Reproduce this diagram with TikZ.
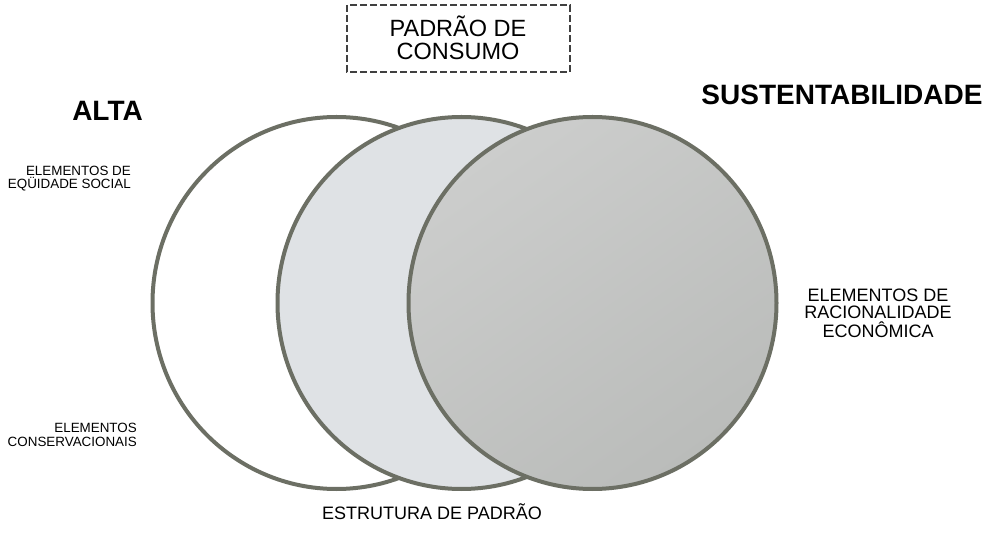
\documentclass[tikz,border=0pt]{standalone}
\usepackage{fontspec}
\setmainfont{Liberation Sans}
\usetikzlibrary{shapes.geometric}
\definecolor{rim}{RGB}{108,111,100}
\definecolor{midfill}{RGB}{223,226,229}
\definecolor{rightfill}{RGB}{186,188,186}
\definecolor{rightlight}{RGB}{204,205,204}
\tikzset{
  setring/.style={ellipse, draw=rim, line width=4pt, minimum width=368pt, minimum height=372pt, inner sep=0pt},
  bigtitle/.style={font=\fontsize{28}{30}\selectfont\bfseries, inner sep=0pt},
  smalllab/.style={font=\fontsize{13.4}{14}\selectfont, inner sep=0pt},
  midlab/.style={font=\fontsize{18}{20}\selectfont, inner sep=0pt},
  toplab/.style={font=\fontsize{23.5}{25}\selectfont, inner sep=0pt},
  framebox/.style={draw=black!75, line width=1.2pt, dash pattern=on 7pt off 3pt}
}
\begin{document}
\begin{tikzpicture}[x=1pt,y=-1pt]
\useasboundingbox (0,0) rectangle (989,537);
\fill[white] (0,0) rectangle (989,537);
% circles
\node[setring, fill=white] (c1) at (336.5,303) {};
\node[setring, fill=midfill] (c2) at (461.5,303) {};
\node[setring, shading=axis, top color=rightlight, bottom color=rightfill, shading angle=35] (c3) at (592.5,303) {};
% top framed label
\draw[framebox] (347,5) rectangle (570,72);
\node[toplab, anchor=base] (pc1) at (458,37) {PADRÃO DE};
\node[toplab, anchor=base] (pc2) at (458,60) {CONSUMO};
% titles
\node[bigtitle, anchor=base] (alta) at (107.5,121) {ALTA};
\node[bigtitle, anchor=base] (sust) at (842,105) {SUSTENTABILIDADE};
% left labels
\node[smalllab, anchor=base east] (eq1) at (131,176) {ELEMENTOS DE};
\node[smalllab, anchor=base east] (eq2) at (131,189) {EQÜIDADE SOCIAL};
\node[smalllab, anchor=base east] (co1) at (137,433) {ELEMENTOS};
\node[smalllab, anchor=base east] (co2) at (137,447) {CONSERVACIONAIS};
% right labels
\node[midlab, anchor=base] (ra1) at (878,302) {ELEMENTOS DE};
\node[midlab, anchor=base] (ra2) at (878,319) {RACIONALIDADE};
\node[midlab, anchor=base] (ra3) at (878,338) {ECONÔMICA};
% bottom label
\node[midlab, font=\fontsize{18}{20}\selectfont, anchor=base] (est) at (432,519) {ESTRUTURA DE PADRÃO};
\end{tikzpicture}
\end{document}
